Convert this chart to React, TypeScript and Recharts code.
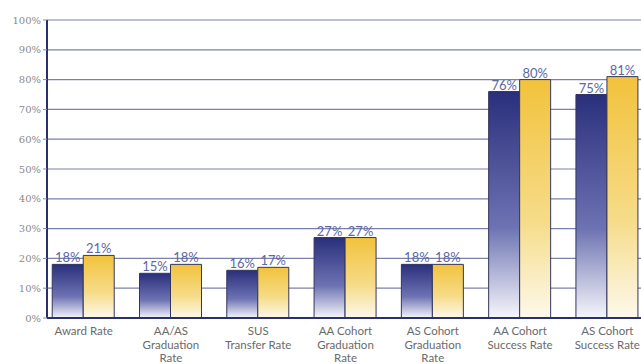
import React from 'react';
import {
    BarChart,
    Bar,
    XAxis,
    YAxis,
    CartesianGrid,
    LabelList
} from 'recharts';

const categories = [
    'Award Rate',
    'AA/AS\nGraduation\nRate',
    'SUS\nTransfer Rate',
    'AA Cohort\nGraduation\nRate',
    'AS Cohort\nGraduation\nRate',
    'AA Cohort\nSuccess Rate',
    'AS Cohort\nSuccess Rate'
];
const blueValues = [18, 15, 16, 27, 18, 76, 75];
const goldValues = [21, 18, 17, 27, 18, 80, 81];
const yTicks = [0, 10, 20, 30, 40, 50, 60, 70, 80, 90, 100];

const chartData = categories.map((name, i) => ({
    name,
    blue: blueValues[i],
    gold: goldValues[i]
}));

const FONT = 'Lato, "Open Sans", sans-serif';

const CategoryTick = ({ x, y, payload }: any) => {
    const lines = String(payload.value).split('\n');
    return (
        <text x={x} y={y} textAnchor="middle" fill="#6a6a6a" fontSize={11.5} fontFamily={FONT}>
            {lines.map((line: string, i: number) => (
                <tspan key={i} x={x} dy={i === 0 ? 9 : 13.5}>{line}</tspan>
            ))}
        </text>
    );
};

export default function App() {
    return (
        <div style={{
            position: 'fixed',
            left: 0,
            top: 0,
            width: 641,
            height: 364,
            overflow: 'hidden',
            background: '#fff'
        }}>
            <BarChart
                width={680}
                height={364}
                data={chartData}
                margin={{ top: 20, right: 29, left: 0, bottom: 0 }}
                barCategoryGap="14%"
                barGap={0}
            >
                <defs>
                    <linearGradient id="blueFill" x1="0" y1="0" x2="0" y2="1">
                        <stop offset="0%" stopColor="#2a2f7c" />
                        <stop offset="60%" stopColor="#6d73b2" />
                        <stop offset="100%" stopColor="#f6f6fb" />
                    </linearGradient>
                    <linearGradient id="goldFill" x1="0" y1="0" x2="0" y2="1">
                        <stop offset="0%" stopColor="#f2c23c" />
                        <stop offset="60%" stopColor="#f6dc8a" />
                        <stop offset="100%" stopColor="#fdf9ec" />
                    </linearGradient>
                </defs>
                <CartesianGrid
                    vertical={false}
                    stroke="#7c80ad"
                    strokeWidth={1.2}
                />
                <XAxis
                    dataKey="name"
                    height={46}
                    padding={{ left: -7, right: 0 }}
                    axisLine={{ stroke: '#2c2f6e', strokeWidth: 2 }}
                    tickLine={false}
                    interval={0}
                    tick={<CategoryTick />}
                />
                <YAxis
                    width={47}
                    domain={[0, 100]}
                    ticks={yTicks}
                    tickFormatter={(v) => `${v}%`}
                    axisLine={{ stroke: '#2c2f6e', strokeWidth: 2 }}
                    tickLine={{ stroke: '#8a8aa8' }}
                    tickSize={4}
                    tickMargin={2}
                    tick={{ fill: '#8a8a8a', fontSize: 10, fontFamily: '"DejaVu Serif", serif' }}
                />
                <Bar dataKey="blue" fill="url(#blueFill)" stroke="#34365e" strokeWidth={1} isAnimationActive={false}>
                    <LabelList dataKey="blue" position="top" offset={2} formatter={(v: any) => `${v}%`}
                        fill="#5a68a4" fontSize={13} fontFamily={FONT} />
                </Bar>
                <Bar dataKey="gold" fill="url(#goldFill)" stroke="#34365e" strokeWidth={1} isAnimationActive={false}>
                    <LabelList dataKey="gold" position="top" offset={2} formatter={(v: any) => `${v}%`}
                        fill="#5a68a4" fontSize={13} fontFamily={FONT} />
                </Bar>
            </BarChart>
        </div>
    );
}
